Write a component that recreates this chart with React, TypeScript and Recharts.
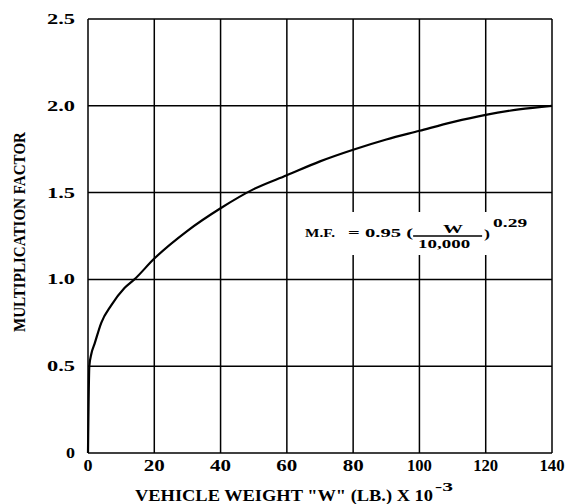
import React from "react";
import {
  LineChart,
  Line,
  XAxis,
  YAxis,
  CartesianGrid,
  ReferenceArea,
} from "recharts";

const weights = [0, 0.4, 1, 2, 4, 7, 11, 14, 20, 30, 40, 50, 60, 70, 80, 90, 100, 110, 120, 130, 140];
const factors = [0, 0.5, 0.57, 0.63, 0.75, 0.85, 0.95, 1.0, 1.12, 1.28, 1.41, 1.52, 1.6, 1.68, 1.747, 1.806, 1.856, 1.906, 1.948, 1.979, 2.0];
const xTicks = [0, 20, 40, 60, 80, 100, 120, 140];
const yTicks = [0, 0.5, 1.0, 1.5, 2.0, 2.5];
const yTickLabels = ["0", "0.5", "1.0", "1.5", "2.0", "2.5"];

const data = weights.map((w, i) => ({ w, mf: factors[i] }));

const FONT = "Liberation Serif";

const labelWidth = (s: string) => {
  if (s.length === 1) return 9;
  if (s.includes(".")) return 28;
  if (s.length === 2) return 21;
  return 25;
};

const XTick = (props: any) => {
  const { x, payload } = props;
  const s = String(payload.value);
  return (
    <text
      x={x}
      y={471}
      textAnchor="middle"
      fontFamily={FONT}
      fontWeight={700}
      fontSize={16}
      fill="#000"
      textLength={labelWidth(s)}
      lengthAdjust="spacingAndGlyphs"
    >
      {s}
    </text>
  );
};

const YTick = (props: any) => {
  const { x, y, payload } = props;
  const s = yTickLabels[yTicks.indexOf(payload.value)] ?? String(payload.value);
  return (
    <text
      x={x}
      y={y + 5}
      textAnchor="end"
      fontFamily={FONT}
      fontWeight={700}
      fontSize={15}
      fill="#000"
      textLength={labelWidth(s)}
      lengthAdjust="spacingAndGlyphs"
    >
      {s}
    </text>
  );
};

const Formula = (props: any) => {
  const vb = props.viewBox || {};
  const x = vb.x ?? 0;
  const y = vb.y ?? 0;
  const s = { fontFamily: FONT, fontWeight: 700, fontSize: 13, fill: "#000", lengthAdjust: "spacingAndGlyphs" } as any;
  return (
    <g>
      <text x={x + 5} y={y + 25} textLength={30} {...s}>M.F.</text>
      <text x={x + 48} y={y + 25} textLength={65} {...s}>= 0.95 (</text>
      <text x={x + 143} y={y + 21} textLength={20} {...s}>W</text>
      <line x1={x + 113} x2={x + 182} y1={y + 24} y2={y + 24} stroke="#000" strokeWidth={1.5} />
      <text x={x + 118} y={y + 36} textLength={52} {...s}>10,000</text>
      <text x={x + 184} y={y + 26} textLength={6} {...s}>)</text>
      <text x={x + 193} y={y + 15} textLength={34} {...s}>0.29</text>
    </g>
  );
};

export default function App() {
  return (
    <div style={{ position: "absolute", left: 0, top: 0, width: 568, height: 504, background: "#fff" }}>
      <LineChart
        width={568}
        height={504}
        data={data}
        margin={{ top: 19, right: 16, bottom: 0, left: 8 }}
      >
        <CartesianGrid stroke="#000" strokeWidth={1.5} horizontalValues={yTicks} verticalValues={xTicks} />
        <XAxis
          dataKey="w"
          type="number"
          domain={[0, 140]}
          ticks={xTicks}
          interval={0}
          height={51}
          tickLine={false}
          axisLine={false}
          tickSize={0}
          tickMargin={7}
          tick={<XTick />}
        />
        <YAxis
          type="number"
          domain={[0, 2.5]}
          ticks={yTicks}
          interval={0}
          width={80}
          tickLine={false}
          axisLine={false}
          tickSize={0}
          tickMargin={13}
          tick={<YTick />}
        />
        <ReferenceArea
          x1={64}
          x2={128}
          y1={1.14}
          y2={1.388}
          fill="#fff"
          fillOpacity={1}
          stroke="none"
          ifOverflow="visible"
          label={<Formula />}
        />
        <Line
          type="monotone"
          dataKey="mf"
          stroke="#000"
          strokeWidth={2.2}
          dot={false}
          isAnimationActive={false}
        />
        <text
          x={135}
          y={501}
          fontFamily={FONT}
          fontWeight={700}
          fontSize={16}
          fill="#000"
          textLength={298}
          lengthAdjust="spacingAndGlyphs"
        >
          VEHICLE WEIGHT  "W"  (LB.) X 10
        </text>
        <text
          x={435}
          y={491}
          fontFamily={FONT}
          fontWeight={700}
          fontSize={13}
          fill="#000"
          textLength={18}
          lengthAdjust="spacingAndGlyphs"
        >
          -3
        </text>
        <text
          x={25}
          y={332}
          transform="rotate(-90 25 332)"
          fontFamily={FONT}
          fontWeight={700}
          fontSize={16}
          fill="#000"
          textLength={200}
          lengthAdjust="spacingAndGlyphs"
        >
          MULTIPLICATION FACTOR
        </text>
      </LineChart>
    </div>
  );
}
